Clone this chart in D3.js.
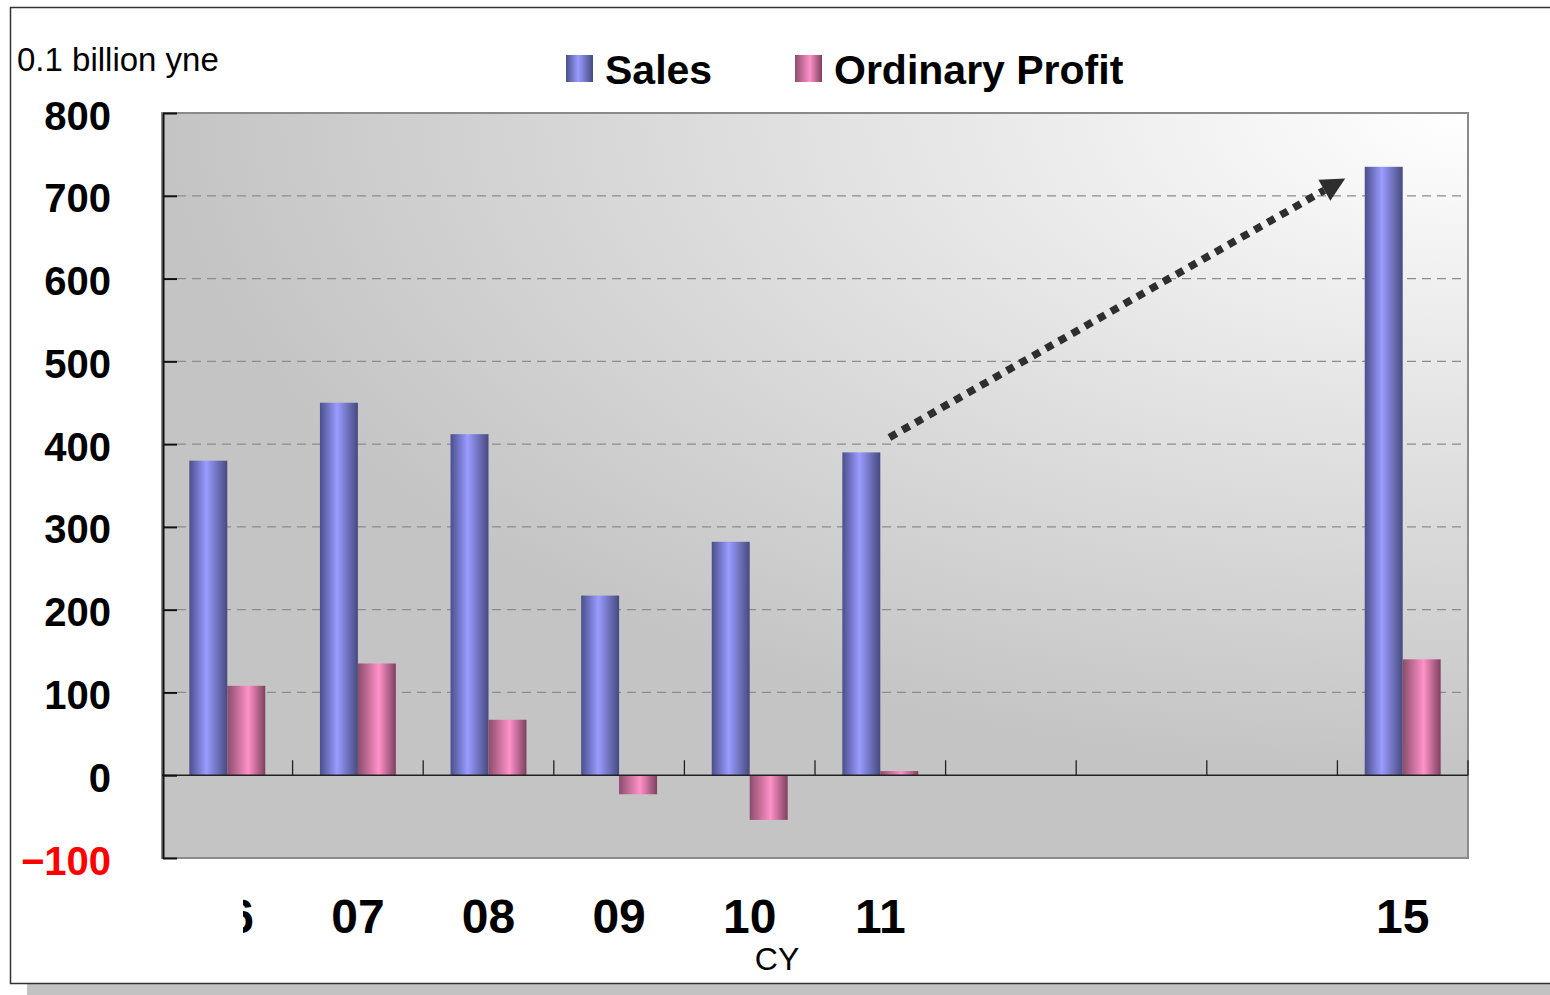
<!DOCTYPE html>
<html>
<head>
<meta charset="utf-8">
<script src="https://cdn.jsdelivr.net/npm/d3@7"></script>
<style>
  html, body { margin: 0; padding: 0; background: #fff; }
  svg { display: block; font-family: "Liberation Sans", Arial, sans-serif; }
</style>
</head>
<body>
<svg id="chart" width="1550" height="995"></svg>
<script>
// ---- data ----
const categories = ["06", "07", "08", "09", "10", "11", "12", "13", "14", "15"];
const xLabels = ["06", "07", "08", "09", "10", "11", "", "", "", "15"];
const series = ["Sales", "Ordinary Profit"];
const salesValues = [380, 450, 412, 217, 282, 390, null, null, null, 735];
const profitValues = [108, 135, 67, -23, -54, 5, null, null, null, 140];
const yTicks = [-100, 0, 100, 200, 300, 400, 500, 600, 700, 800];
// arrow annotation: [category, fraction within slot, value]
const arrowFrom = ["11", 0.57, 408];
const arrowTo = ["15", 0.06, 721];

const svg = d3.select("#chart");
const W = 1550, H = 995;
const plot = { left: 162, right: 1468, top: 113, bottom: 858 };

const x0 = d3.scaleBand().domain(categories).range([plot.left, plot.right]).padding(0);
const x1 = d3.scaleBand().domain(series).range([0, x0.bandwidth()]).paddingInner(0).paddingOuter(0.72);
const y = d3.scaleLinear().domain([-100, 800]).range([plot.bottom, plot.top]);

const defs = svg.append("defs");

// bar gradients (cylinder look)
function barGradient(id, dark1, light, dark2, mid) {
    const g = defs.append("linearGradient").attr("id", id)
        .attr("x1", "0").attr("x2", "1").attr("y1", "0").attr("y2", "0");
    g.append("stop").attr("offset", "0").attr("stop-color", dark1);
    g.append("stop").attr("offset", mid).attr("stop-color", light);
    g.append("stop").attr("offset", "1").attr("stop-color", dark2);
}
barGradient("gSales", "#4a4f8c", "#9a9cff", "#474a7e", "0.45");
barGradient("gProfit", "#8c4c6c", "#ff92c8", "#7e4060", "0.55");
const fills = { "Sales": "url(#gSales)", "Ordinary Profit": "url(#gProfit)" };

// plot background: white in upper right, gray elsewhere
const bg = defs.append("radialGradient").attr("id", "gBg")
    .attr("cx", "1").attr("cy", "0").attr("r", "1").attr("fx", "1").attr("fy", "0");
bg.append("stop").attr("offset", "0").attr("stop-color", "#ffffff");
bg.append("stop").attr("offset", "0.15").attr("stop-color", "#f6f6f6");
bg.append("stop").attr("offset", "1").attr("stop-color", "#c4c4c4");

defs.append("clipPath").attr("id", "labelClip")
    .append("rect").attr("x", 243).attr("y", 860).attr("width", 1300).attr("height", 120);

// outer frame + shadow
svg.append("rect").attr("x", 27).attr("y", 984).attr("width", W - 27).attr("height", 11).attr("fill", "#c2c2c2");
svg.append("rect").attr("x", 10.5).attr("y", 7.5).attr("width", W + 20).attr("height", 976)
    .attr("fill", "#fff").attr("stroke", "#333").attr("stroke-width", 1.5);

// plot area
svg.append("rect").attr("x", plot.left).attr("y", plot.top)
    .attr("width", plot.right - plot.left).attr("height", y(0) - plot.top)
    .attr("fill", "url(#gBg)");
svg.append("rect").attr("x", plot.left).attr("y", y(0))
    .attr("width", plot.right - plot.left).attr("height", plot.bottom - y(0))
    .attr("fill", "#c4c4c4");
svg.append("rect").attr("x", plot.left).attr("y", plot.top)
    .attr("width", plot.right - plot.left).attr("height", plot.bottom - plot.top)
    .attr("fill", "none").attr("stroke", "#8a8a8a").attr("stroke-width", 2);

// grid lines
svg.append("g").selectAll("line")
    .data(yTicks.filter(d => d > 0 && d < 800))
    .join("line")
    .attr("x1", plot.left + 15).attr("x2", plot.right - 6)
    .attr("y1", d => y(d)).attr("y2", d => y(d))
    .attr("stroke", "#8c8c8c").attr("stroke-width", 1.2).attr("stroke-dasharray", "9,6");

// bars
const groups = svg.append("g").selectAll("g")
    .data(categories.map((c, i) => ({ cat: c, vals: [salesValues[i], profitValues[i]] })))
    .join("g")
    .attr("transform", d => `translate(${x0(d.cat)},0)`);
groups.selectAll("rect")
    .data(d => series.map((s, j) => ({ s, v: d.vals[j] })).filter(e => e.v !== null))
    .join("rect")
    .attr("x", d => x1(d.s))
    .attr("width", x1.bandwidth())
    .attr("y", d => y(Math.max(0, d.v)))
    .attr("height", d => Math.abs(y(d.v) - y(0)))
    .attr("fill", d => fills[d.s]);

// x axis line + inward ticks
const xAxisG = svg.append("g");
xAxisG.append("line").attr("x1", plot.left).attr("x2", plot.right)
    .attr("y1", y(0)).attr("y2", y(0)).attr("stroke", "#222").attr("stroke-width", 1.5);
xAxisG.selectAll("line.tick")
    .data(categories.slice(1).map(c => x0(c)).concat([plot.right]))
    .join("line").attr("class", "tick")
    .attr("x1", d => d).attr("x2", d => d)
    .attr("y1", y(0)).attr("y2", y(0) - 15)
    .attr("stroke", "#222").attr("stroke-width", 1.3);

// y axis
const yAxis = d3.axisLeft(y).tickValues(yTicks).tickSizeInner(-14).tickSizeOuter(0)
    .tickPadding(52).tickFormat(d => d < 0 ? "\u2212" + Math.abs(d) : d);
const yAxisG = svg.append("g").attr("transform", `translate(${plot.left + 1},0)`).call(yAxis);
yAxisG.select(".domain").attr("stroke", "#111").attr("stroke-width", 2);
yAxisG.selectAll(".tick line").attr("stroke", "#111").attr("stroke-width", 2);
yAxisG.selectAll(".tick text")
    .attr("font-family", "'Liberation Sans', Arial, sans-serif")
    .attr("font-size", 40).attr("font-weight", "bold")
    .attr("fill", d => d < 0 ? "#ff0000" : "#000")
    .attr("dy", "0.4em");

// x labels
svg.append("g").attr("clip-path", "url(#labelClip)")
    .selectAll("text").data(categories)
    .join("text")
    .attr("x", d => x0(d) + x0.bandwidth() / 2)
    .attr("y", 933)
    .attr("text-anchor", "middle")
    .attr("font-size", 48).attr("font-weight", "bold")
    .text((d, i) => xLabels[i]);

svg.append("text").attr("x", 777).attr("y", 970).attr("text-anchor", "middle")
    .attr("font-size", 32).text("CY");

// unit label
svg.append("text").attr("x", 17).attr("y", 71).attr("font-size", 33).text("0.1 billion yne");

// legend
const legendItems = [
    { s: "Sales", x: 566 },
    { s: "Ordinary Profit", x: 795 }
];
const lg = svg.append("g").selectAll("g").data(legendItems).join("g")
    .attr("transform", d => `translate(${d.x},55)`);
lg.append("rect").attr("width", 27).attr("height", 27).attr("fill", d => fills[d.s]);
lg.append("text").attr("x", 39).attr("y", 29)
    .attr("font-size", 41).attr("font-weight", "bold").text(d => d.s);

// dotted arrow
const ax = a => x0(a[0]) + a[1] * x0.bandwidth();
const p0 = [ax(arrowFrom), y(arrowFrom[2])];
const p1 = [ax(arrowTo), y(arrowTo[2])];
const ang = Math.atan2(p1[1] - p0[1], p1[0] - p0[0]);
const headLen = 24, headHalf = 12;
const base = [p1[0] - headLen * Math.cos(ang), p1[1] - headLen * Math.sin(ang)];
svg.append("line")
    .attr("x1", p0[0]).attr("y1", p0[1]).attr("x2", base[0]).attr("y2", base[1])
    .attr("stroke", "#2e2e2e").attr("stroke-width", 7.5).attr("stroke-dasharray", "8,7");
svg.append("path")
    .attr("d", d3.line()([
        p1,
        [base[0] + headHalf * Math.sin(ang), base[1] - headHalf * Math.cos(ang)],
        [base[0] - headHalf * Math.sin(ang), base[1] + headHalf * Math.cos(ang)]
    ]) + "Z")
    .attr("fill", "#2e2e2e");
</script>
</body>
</html>
